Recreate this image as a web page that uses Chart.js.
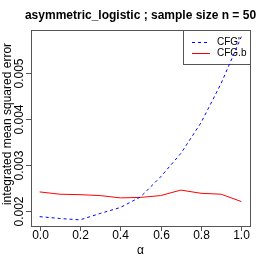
<!DOCTYPE html>
<html>
<head>
<meta charset="utf-8">
<script src="https://cdn.jsdelivr.net/npm/chart.js@4"></script>
<style>
  body { margin: 0; background: #fff; }
  canvas { display: block; }
</style>
</head>
<body>
<canvas id="grafico" width="266" height="266"></canvas>
<script>
// valores
const alpha = [0.0, 0.1, 0.2, 0.3, 0.4, 0.5, 0.6, 0.7, 0.8, 0.9, 1.0];
const cfgPrime = [0.00187, 0.00183, 0.00180, 0.00194, 0.00207, 0.00230, 0.00274, 0.00325, 0.00392, 0.00478, 0.00580];
const cfgB = [0.00241, 0.00236, 0.00235, 0.00233, 0.00228, 0.00229, 0.00233, 0.00245, 0.00238, 0.00236, 0.00220];
const xTicks = [0.0, 0.2, 0.4, 0.6, 0.8, 1.0];
const yTicks = [0.002, 0.003, 0.004, 0.005];
const seriesNames = ["CFG'", 'CFG.b'];

const FONT = '"Liberation Sans", Arial, sans-serif';

// ejes estilo R dibujados a mano
const ejesR = {
  id: 'ejesR',
  beforeDatasetsDraw(chart) {
    const ctx = chart.ctx;
    const a = chart.chartArea;
    const xs = chart.scales.x, ys = chart.scales.y;
    ctx.save();
    ctx.strokeStyle = '#555';
    ctx.lineWidth = 1;
    ctx.strokeRect(Math.round(a.left) + 0.5, Math.round(a.top) + 0.5,
      Math.round(a.right - a.left), Math.round(a.bottom - a.top));

    ctx.fillStyle = '#000';
    ctx.font = '12px ' + FONT;
    // eje x
    ctx.textAlign = 'center';
    ctx.textBaseline = 'middle';
    xTicks.forEach(v => {
      const px = Math.round(xs.getPixelForValue(v)) + 0.5;
      ctx.beginPath();
      ctx.moveTo(px, a.bottom);
      ctx.lineTo(px, a.bottom + 5);
      ctx.stroke();
      ctx.fillText(v.toFixed(1), px, a.bottom + 10);
    });
    // eje y, etiquetas giradas
    yTicks.forEach(v => {
      const py = Math.round(ys.getPixelForValue(v)) + 0.5;
      ctx.beginPath();
      ctx.moveTo(a.left, py);
      ctx.lineTo(a.left - 5, py);
      ctx.stroke();
      ctx.save();
      ctx.translate(a.left - 11, py);
      ctx.rotate(-Math.PI / 2);
      ctx.fillText(v.toFixed(3), 0, 0);
      ctx.restore();
    });

    // titulos
    ctx.font = 'bold 12px ' + FONT;
    ctx.fillText('asymmetric_logistic ; sample size n = 50', (a.left + a.right) / 2, 16);
    ctx.font = '12px ' + FONT;
    ctx.fillText('\u03b1', (a.left + a.right) / 2, 251);
    ctx.save();
    ctx.translate(8, (a.top + a.bottom) / 2 - 4);
    ctx.rotate(-Math.PI / 2);
    ctx.fillText('integrated mean squared error', 0, 0);
    ctx.restore();

    // leyenda
    const lx = 183, ly = a.top, lw = a.right - 183, lh = 34;
    ctx.strokeRect(lx + 0.5, Math.round(ly) + 0.5, Math.round(lw), lh);
    const estilos = [
      { color: '#0000ff', dash: [3, 3] },
      { color: '#ff0000', dash: [] }
    ];
    ctx.font = '10px ' + FONT;
    ctx.textAlign = 'left';
    seriesNames.forEach((nombre, i) => {
      const y = ly + 12.5 + i * 11;
      ctx.strokeStyle = estilos[i].color;
      ctx.setLineDash(estilos[i].dash);
      ctx.beginPath();
      ctx.moveTo(192, y);
      ctx.lineTo(210, y);
      ctx.stroke();
      ctx.setLineDash([]);
      ctx.fillStyle = '#000';
      ctx.fillText(nombre, 217, y);
    });
    ctx.restore();
  }
};

const data = {
  datasets: [{
    label: seriesNames[0],
    data: alpha.map((a, i) => ({ x: a, y: cfgPrime[i] })),
    borderColor: '#0000ff',
    borderDash: [3, 3],
    borderWidth: 1,
    pointRadius: 0
  }, {
    label: seriesNames[1],
    data: alpha.map((a, i) => ({ x: a, y: cfgB[i] })),
    borderColor: '#ff0000',
    borderWidth: 1,
    pointRadius: 0
  }]
};

const config = {
  type: 'line',
  data: data,
  options: {
    responsive: false,
    animation: false,
    layout: { padding: { left: 31, top: 30, right: 16, bottom: 40 } },
    plugins: {
      legend: { display: false },
      tooltip: { enabled: false }
    },
    scales: {
      x: { type: 'linear', display: false, min: -0.043, max: 1.043 },
      y: { type: 'linear', display: false, min: 0.001666, max: 0.005945 }
    }
  },
  plugins: [ejesR]
};

const myChart = new Chart(document.getElementById('grafico'), config);
</script>
</body>
</html>
